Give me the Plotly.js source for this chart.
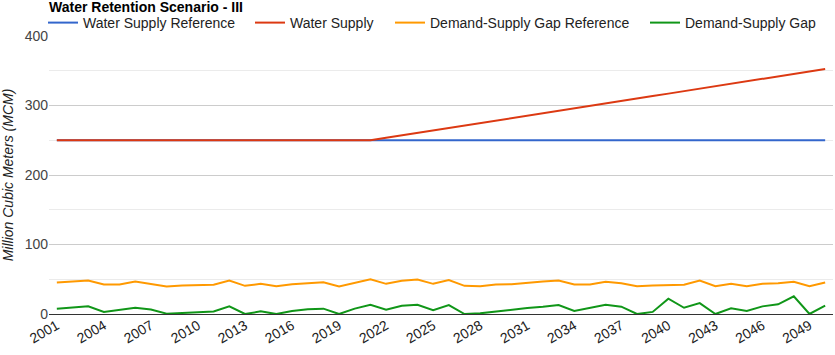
<!DOCTYPE html>
<html>
<head>
<meta charset="utf-8">
<script src="https://cdn.plot.ly/plotly-3.0.1.min.js"></script>
<style>html,body{margin:0;padding:0;background:#fff;}#chart{width:835px;height:355px;}</style>
</head>
<body>
<div id="chart"></div>
<script>
const years = [2001,2002,2003,2004,2005,2006,2007,2008,2009,2010,
               2011,2012,2013,2014,2015,2016,2017,2018,2019,2020,
               2021,2022,2023,2024,2025,2026,2027,2028,2029,2030,
               2031,2032,2033,2034,2035,2036,2037,2038,2039,2040,
               2041,2042,2043,2044,2045,2046,2047,2048,2049,2050];

const supplyReference = [250,250,250,250,250,250,250,250,250,250,
                         250,250,250,250,250,250,250,250,250,250,
                         250,250,250,250,250,250,250,250,250,250,
                         250,250,250,250,250,250,250,250,250,250,
                         250,250,250,250,250,250,250,250,250,250];

const supply = [250,250,250,250,250,250,250,250,250,250,
                250,250,250,250,250,250,250,250,250,250,
                250,253.5,257.1,260.6,264.1,267.7,271.2,274.7,278.3,281.8,
                285.3,288.9,292.4,295.9,299.5,303.0,306.5,310.1,313.6,317.1,
                320.7,324.2,327.7,331.3,334.8,338.3,341.9,345.4,348.9,352.5];

const gapReference = [45.2,46.8,48.2,42.4,42.4,46.8,43.2,39.5,41.0,41.5,
                      42.0,48.2,40.5,43.4,40.0,42.9,44.3,45.8,39.5,44.8,
                      50.1,43.4,47.7,49.6,43.4,48.7,40.5,40.0,42.4,42.9,
                      45.3,46.8,48.2,42.4,42.4,46.3,44.3,40.0,41.0,41.5,
                      42.0,48.2,40.0,43.4,40.0,43.4,44.3,46.3,40.0,45.3];

const gap = [7.5,9.0,11.0,3.0,5.5,9.0,6.5,0.5,1.5,2.5,
             3.5,11.0,0,3.8,0,4.3,6.7,7.7,0,7.7,
             13.4,6.2,12.0,13.4,5.5,12.9,0,1.0,3.8,6.7,
             8.6,10.5,12.9,4.3,9.1,13.4,10.5,0,3.0,22.0,
             9.0,15.7,0,8.1,4.3,11.0,13.9,25.5,0,12.0];

const seriesNames = ['Water Supply Reference','Water Supply','Demand-Supply Gap Reference','Demand-Supply Gap'];
const seriesColors = ['#3366cc','#dc3912','#ff9900','#109618'];
const seriesData = [supplyReference, supply, gapReference, gap];
const tickYears = [2001,2004,2007,2010,2013,2016,2019,2022,2025,2028,2031,2034,2037,2040,2043,2046,2049];

const legendNames = ['legend','legend2','legend3','legend4'];
const legendX = [43, 250, 390, 645];

const traces = seriesData.map((d, i) => ({
  x: years, y: d, type: 'scatter', mode: 'lines',
  name: seriesNames[i],
  line: {color: seriesColors[i], width: 2},
  legend: legendNames[i],
  hoverinfo: 'x+y'
}));

const FAM = 'Liberation Sans, Arial, sans-serif';
const layout = {
  width: 835, height: 355,
  margin: {l: 49, r: 2, t: 36, b: 41, autoexpand: false},
  paper_bgcolor: '#fff', plot_bgcolor: '#fff',
  font: {family: FAM, size: 14, color: '#222'},
  title: {
    text: '<b>Water Retention Scenario - III</b>',
    xref: 'container', yref: 'container',
    x: 49/835, xanchor: 'left',
    y: 1 - 7.5/355, yanchor: 'middle',
    font: {family: FAM, size: 14, color: '#000'}
  },
  xaxis: {
    range: [2000.5, 2050.5],
    tickmode: 'array', tickvals: tickYears, ticktext: tickYears.map(String),
    tickangle: -30, ticks: '', showgrid: false, zeroline: false, showline: false,
    tickfont: {family: FAM, size: 14, color: '#222'}
  },
  yaxis: {
    range: [0, 400], dtick: 100, tick0: 0,
    gridcolor: '#cccccc', gridwidth: 1,
    minor: {dtick: 50, showgrid: true, gridcolor: '#ebebeb', gridwidth: 1},
    zeroline: true, zerolinecolor: '#333', zerolinewidth: 1,
    ticks: '', showline: false,
    tickfont: {family: FAM, size: 14, color: '#444'},
    title: {text: '<i>Million Cubic Meters (MCM)</i>', standoff: 8,
            font: {family: FAM, size: 14, color: '#222'}}
  },
  showlegend: true
};
legendNames.forEach((ln, i) => {
  layout[ln] = {
    orientation: 'h', xref: 'container', yref: 'container',
    x: legendX[i]/835, xanchor: 'left',
    y: 1 - 23/355, yanchor: 'middle',
    bgcolor: 'rgba(0,0,0,0)', borderwidth: 0,
    font: {family: FAM, size: 14, color: '#222'},
    itemwidth: 30
  };
});

Plotly.newPlot('chart', traces, layout, {displayModeBar: false, staticPlot: true});
</script>
</body>
</html>
